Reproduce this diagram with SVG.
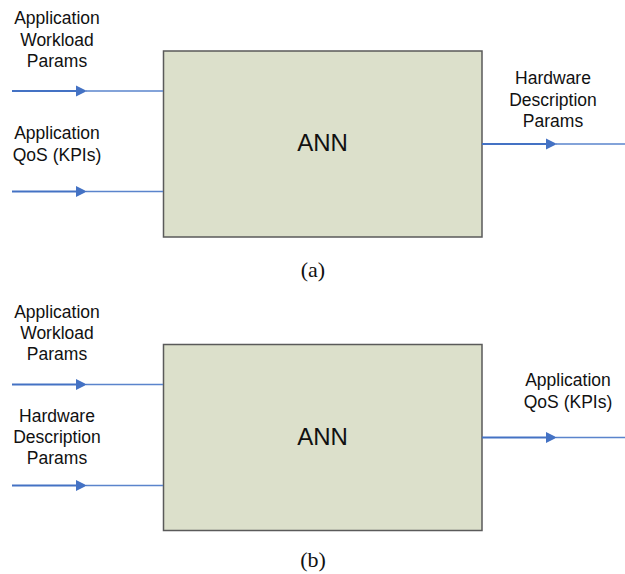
<svg xmlns="http://www.w3.org/2000/svg" width="625" height="574" viewBox="0 0 625 574">
  <style>
    .box { fill: #dce0cb; stroke: #5a5a5a; stroke-width: 1.5; }
    .lbl { font-family: "Liberation Sans", Arial, sans-serif; font-size: 17.5px; fill: #111; text-anchor: middle; }
    .ann { font-family: "Liberation Sans", Arial, sans-serif; font-size: 24px; fill: #111; text-anchor: middle; }
    .cap { font-family: "Liberation Serif", "Times New Roman", serif; font-size: 22px; fill: #111; text-anchor: middle; }
    .thick { stroke: #4472c4; stroke-width: 2; fill: none; }
    .thin { stroke: #5a84cc; stroke-width: 1.3; fill: none; }
    .head { fill: #4472c4; }
  </style>
  <defs>
    <!-- arrow head shared by every connector -->
    <g id="arrowhead"><polygon class="head" points="-11,-5.5 0,0 -11,5.5"/></g>
  </defs>

  <rect width="625" height="574" fill="#ffffff"/>

  <!-- (a) -->
  <g id="ann-a">
    <rect class="box" x="163.5" y="51" width="318.5" height="186"/>
    <text class="ann" x="322.5" y="151">ANN</text>
  </g>
  <g id="in-a-workload">
    <text class="lbl" x="57" y="24">Application</text>
    <text class="lbl" x="57" y="46">Workload</text>
    <text class="lbl" x="57" y="67">Params</text>
  </g>
  <g id="in-a-qos">
    <text class="lbl" x="57" y="139">Application</text>
    <text class="lbl" x="57" y="161">QoS (KPIs)</text>
  </g>
  <g id="out-a-hw">
    <text class="lbl" x="553" y="84">Hardware</text>
    <text class="lbl" x="553" y="106">Description</text>
    <text class="lbl" x="553" y="127">Params</text>
  </g>
  <text class="cap" x="313" y="277">(a)</text>

  <!-- (b) -->
  <g id="ann-b">
    <rect class="box" x="163.5" y="344.5" width="318.5" height="186"/>
    <text class="ann" x="322.5" y="445">ANN</text>
  </g>
  <g id="in-b-workload">
    <text class="lbl" x="57" y="318">Application</text>
    <text class="lbl" x="57" y="339">Workload</text>
    <text class="lbl" x="57" y="360">Params</text>
  </g>
  <g id="in-b-hw">
    <text class="lbl" x="57" y="422">Hardware</text>
    <text class="lbl" x="57" y="443">Description</text>
    <text class="lbl" x="57" y="464">Params</text>
  </g>
  <g id="out-b-qos">
    <text class="lbl" x="568" y="386">Application</text>
    <text class="lbl" x="568" y="408">QoS (KPIs)</text>
  </g>
  <text class="cap" x="313" y="567">(b)</text>

  <!-- connectors -->
  <g id="connectors">
    <line class="thick" x1="12" y1="91" x2="80" y2="91"/>
    <line class="thin" x1="86" y1="91" x2="163" y2="91"/>
    <use href="#arrowhead" x="87" y="91"/>

    <line class="thick" x1="12" y1="191.5" x2="80" y2="191.5"/>
    <line class="thin" x1="86" y1="191.5" x2="163" y2="191.5"/>
    <use href="#arrowhead" x="87" y="191.5"/>

    <line class="thick" x1="482" y1="144" x2="550" y2="144"/>
    <line class="thin" x1="556" y1="144" x2="625" y2="144"/>
    <use href="#arrowhead" x="557" y="144"/>

    <line class="thick" x1="12" y1="384.5" x2="80" y2="384.5"/>
    <line class="thin" x1="86" y1="384.5" x2="163" y2="384.5"/>
    <use href="#arrowhead" x="87" y="384.5"/>

    <line class="thick" x1="12" y1="485.5" x2="80" y2="485.5"/>
    <line class="thin" x1="86" y1="485.5" x2="163" y2="485.5"/>
    <use href="#arrowhead" x="87" y="485.5"/>

    <line class="thick" x1="482" y1="437.5" x2="550" y2="437.5"/>
    <line class="thin" x1="556" y1="437.5" x2="625" y2="437.5"/>
    <use href="#arrowhead" x="557" y="437.5"/>
  </g>
</svg>
